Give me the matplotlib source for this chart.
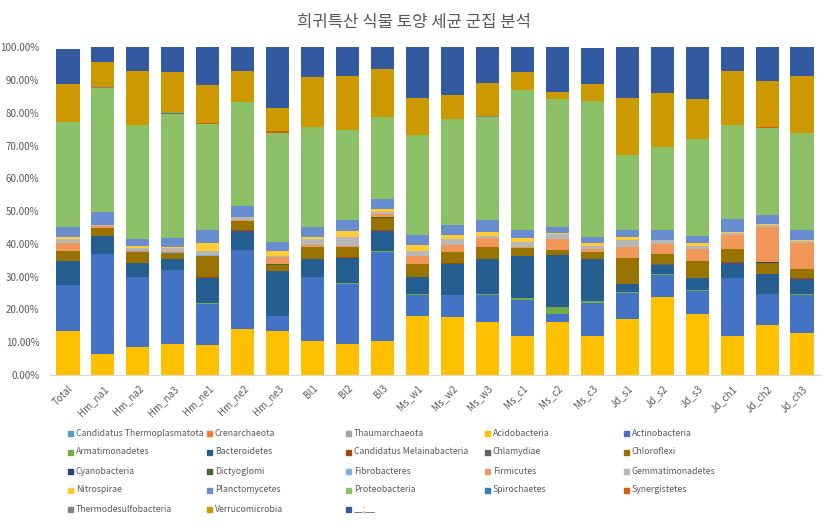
import numpy as np
import matplotlib
matplotlib.use("Agg")
import matplotlib.pyplot as plt
from matplotlib.patches import Rectangle
from matplotlib.ticker import FuncFormatter

plt.rcParams["font.family"] = ["Noto Sans CJK KR", "DejaVu Sans"]

GRAY = "#595959"

samples = ["Total", "Hm_na1", "Hm_na2", "Hm_na3", "Hm_ne1", "Hm_ne2", "Hm_ne3",
           "Bl1", "Bl2", "Bl3", "Ms_w1", "Ms_w2", "Ms_w3", "Ms_c1", "Ms_c2", "Ms_c3",
           "Jd_s1", "Jd_s2", "Jd_s3", "Jd_ch1", "Jd_ch2", "Jd_ch3"]

# relative abundance (%) per phylum, one value per sample
thermoplasmatota = [0.02] * 22
crenarchaeota = [0.02] * 22
thaumarchaeota = [0.1, 0.05, 0.05, 0.05, 0.05, 0.05, 0.1, 0.05, 0.05, 0.05, 0.1,
                  0.1, 0.1, 0.05, 0.05, 0.05, 0.1, 0.05, 0.05, 0.05, 0.05, 0.05]
acidobacteria = [13.4, 6.4, 8.6, 9.5, 9.2, 14.0, 13.2, 10.2, 9.5, 10.2, 17.8,
                 17.5, 16.0, 11.9, 16.1, 11.9, 16.8, 23.6, 18.5, 11.7, 15.3, 12.6]
actinobacteria = [13.8, 30.4, 21.1, 22.3, 12.5, 24.1, 4.6, 19.5, 18.3, 27.3, 6.6,
                  6.7, 8.4, 11.0, 2.4, 10.0, 8.1, 6.9, 7.1, 17.8, 9.3, 11.8]
armatimonadetes = [0.2, 0.1, 0.1, 0.1, 0.1, 0.1, 0.1, 0.1, 0.1, 0.1, 0.2,
                   0.2, 0.1, 0.4, 2.3, 0.7, 0.2, 0.2, 0.1, 0.1, 0.1, 0.1]
bacteroidetes = [7.1, 5.3, 4.4, 3.5, 7.8, 5.8, 13.7, 5.4, 7.8, 6.4, 5.1,
                 9.2, 10.7, 13.0, 15.8, 12.7, 2.4, 2.9, 3.9, 4.4, 6.1, 4.6]
melainabacteria = [0.1, 0.02, 0.02, 0.02, 0.1, 0.02, 0.02, 0.02, 0.1, 0.02, 0.02,
                   0.3, 0.02, 0.02, 0.02, 0.02, 0.2, 0.02, 0.02, 0.3, 0.02, 0.3]
chlamydiae = [0.02] * 22
chloroflexi = [3.0, 2.6, 3.3, 1.8, 6.6, 2.9, 1.9, 3.6, 3.0, 3.9, 3.9,
               3.5, 3.6, 2.2, 1.5, 2.1, 7.9, 3.2, 5.1, 4.0, 3.4, 2.8]
cyanobacteria = [0.02] * 22
dictyoglomi = [0.02] * 22
fibrobacteres = [0.02] * 22
firmicutes = [2.5, 0.4, 0.5, 0.3, 0.3, 0.3, 2.2, 0.8, 0.4, 1.0, 2.5,
              2.1, 2.7, 0.4, 3.1, 1.0, 3.3, 2.9, 3.5, 4.3, 10.7, 7.9]
gemmatimonadetes = [1.2, 0.3, 0.5, 1.1, 1.0, 0.7, 0.5, 1.7, 2.6, 0.7, 1.5,
                    1.7, 0.8, 1.5, 1.7, 0.9, 2.0, 1.2, 1.1, 0.7, 0.8, 0.7]
nitrospirae = [0.7, 0.1, 0.6, 0.2, 2.6, 0.2, 1.3, 0.7, 2.0, 0.8, 1.9,
               1.3, 1.2, 1.2, 0.3, 0.8, 1.0, 0.2, 0.7, 0.2, 0.1, 0.1]
planctomycetes = [3.0, 4.0, 2.1, 2.9, 3.8, 3.3, 2.8, 2.9, 3.3, 3.1, 3.0,
                  3.1, 3.6, 2.5, 1.8, 1.8, 2.2, 3.0, 2.3, 3.9, 2.9, 3.2]
proteobacteria = [31.9, 37.9, 34.9, 37.9, 32.3, 31.8, 33.2, 30.5, 27.5, 25.1, 30.5,
                  32.2, 31.5, 42.6, 38.9, 41.4, 22.9, 25.3, 29.5, 28.7, 26.6, 29.5]
spirochaetes = [0.02] * 22
synergistetes = [0.05, 0.02, 0.02, 0.02, 0.3, 0.02, 0.6, 0.02, 0.02, 0.02, 0.02,
                 0.02, 0.02, 0.02, 0.02, 0.02, 0.02, 0.02, 0.02, 0.02, 0.02, 0.02]
thermodesulfobacteria = [0.02] * 22
verrucomicrobia = [11.6, 7.7, 16.5, 12.5, 11.7, 9.2, 7.1, 15.4, 16.4, 14.6, 11.2,
                   7.4, 10.2, 5.6, 2.3, 5.3, 17.1, 16.3, 12.2, 16.3, 14.2, 17.3]
unassigned = [10.8, 5.0, 7.1, 8.1, 12.0, 7.6, 18.8, 9.3, 8.8, 6.9, 15.8,
              15.1, 11.3, 8.1, 13.5, 11.0, 15.8, 14.2, 15.8, 7.6, 10.4, 9.0]

series = [
    ("Candidatus Thermoplasmatota", thermoplasmatota, "#5B9BD5"),
    ("Crenarchaeota", crenarchaeota, "#ED7D31"),
    ("Thaumarchaeota", thaumarchaeota, "#A5A5A5"),
    ("Acidobacteria", acidobacteria, "#FFC000"),
    ("Actinobacteria", actinobacteria, "#4472C4"),
    ("Armatimonadetes", armatimonadetes, "#70AD47"),
    ("Bacteroidetes", bacteroidetes, "#255E91"),
    ("Candidatus Melainabacteria", melainabacteria, "#9E480E"),
    ("Chlamydiae", chlamydiae, "#636363"),
    ("Chloroflexi", chloroflexi, "#997300"),
    ("Cyanobacteria", cyanobacteria, "#264478"),
    ("Dictyoglomi", dictyoglomi, "#43682B"),
    ("Fibrobacteres", fibrobacteres, "#7CAFDD"),
    ("Firmicutes", firmicutes, "#F1975A"),
    ("Gemmatimonadetes", gemmatimonadetes, "#B7B7B7"),
    ("Nitrospirae", nitrospirae, "#FFCD33"),
    ("Planctomycetes", planctomycetes, "#698ED0"),
    ("Proteobacteria", proteobacteria, "#8CC168"),
    ("Spirochaetes", spirochaetes, "#327DC2"),
    ("Synergistetes", synergistetes, "#D26012"),
    ("Thermodesulfobacteria", thermodesulfobacteria, "#848484"),
    ("Verrucomicrobia", verrucomicrobia, "#CC9A00"),
    ("__;__", unassigned, "#335AA1"),
]

W, H = 829, 525
fig = plt.figure(figsize=(W / 100, H / 100), dpi=100)
ax = fig.add_axes([50.5 / W, 1 - 375 / H, 769 / W, 327.7 / H])

x = np.arange(len(samples))
bottom = np.zeros(len(samples))
for name, vals, color in series:
    v = np.array(vals) / 100
    ax.bar(x, v, 0.66, bottom=bottom, color=color, linewidth=0)
    bottom += v

ax.set_xlim(-0.5, len(samples) - 0.5)
ax.set_ylim(0, 1.0)
ax.set_yticks(np.arange(0, 1.01, 0.1))
ax.yaxis.set_major_formatter(FuncFormatter(lambda v, _: f"{v * 100:.2f}%"))
ax.set_xticks(x)
ax.set_xticklabels(samples, rotation=45, ha="right", rotation_mode="anchor",
                   fontsize=7, color=GRAY)
ax.tick_params(axis="both", length=0, labelsize=7, colors=GRAY)
ax.tick_params(axis="y", pad=8)
ax.tick_params(axis="x", pad=6)
for s in ["top", "right", "left"]:
    ax.spines[s].set_visible(False)
ax.spines["bottom"].set_color("#D9D9D9")

fig.text(0.5, 1 - 22 / H, "희귀특산 식물 토양 세균 군집 분석", ha="center",
         va="center", fontsize=12, color=GRAY)

# legend in fixed 5-column grid like Excel
for i, (name, vals, color) in enumerate(series):
    col, row = i % 5, i // 5
    px = 71 + 139 * col
    py = 433 + 19 * row
    fig.patches.append(Rectangle(((px - 2.5) / W, 1 - (py + 2.5) / H), 5 / W, 5 / H,
                                 transform=fig.transFigure, color=color))
    fig.text((px + 5) / W, 1 - py / H, name, ha="left", va="center",
             fontsize=6.3, color=GRAY)

fig.savefig("out.png", dpi=100)
